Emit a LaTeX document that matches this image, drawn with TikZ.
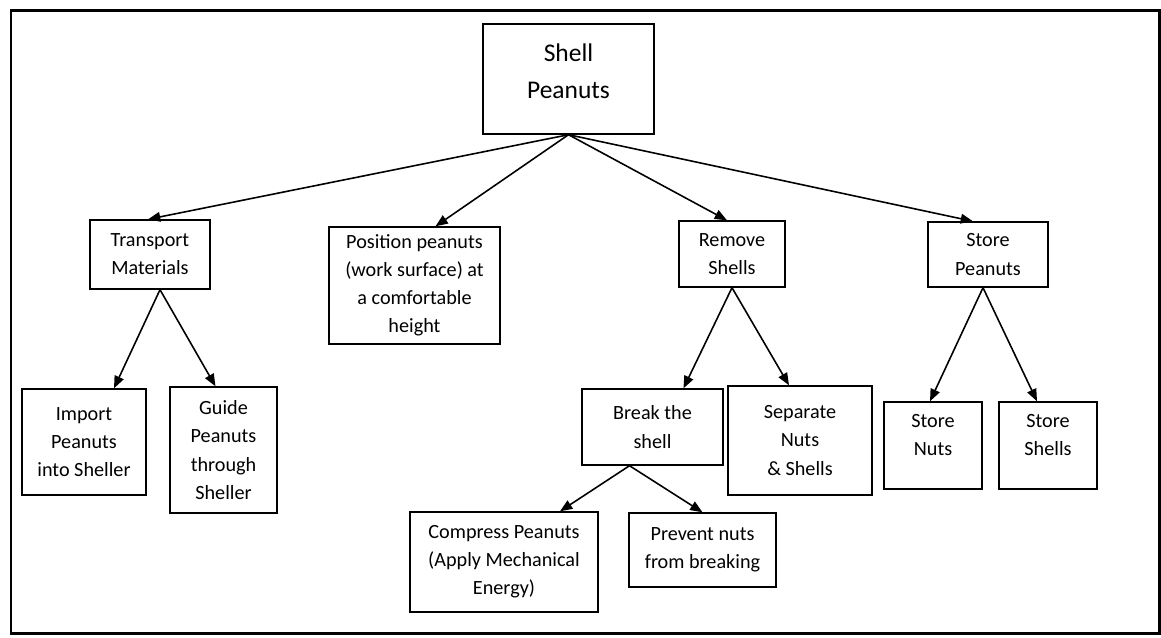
\documentclass[tikz,border=0pt]{standalone}
\usepackage{fontspec}
\setmainfont{Carlito}
\usepackage{tikz}
\usetikzlibrary{shapes,arrows,arrows.meta,positioning}

\begin{document}
\begin{tikzpicture}
            [x=0.02cm, y=-0.02cm, font=\fontsize{11.5}{16}\selectfont,
             box/.style={draw, rectangle, align=center, inner sep=0pt, line width=0.8pt},
             arr/.style={-{Triangle[length=7pt, width=5.5pt]}, line width=0.9pt}]
            \useasboundingbox (0,0) rectangle (1161,637);
            \draw[line width=1.7pt] (11,10) rectangle (1159,633);

            \node[box, minimum width=3.42cm, minimum height=2.2cm, text depth=9pt, font=\fontsize{14.5}{21}\selectfont] (root) at (568.5,79) {Shell\\Peanuts};

            \node[box, minimum width=2.4cm, minimum height=1.38cm] (transport) at (150,254.5) {Transport\\Materials};
            \node[box, minimum width=3.42cm, minimum height=2.34cm] (position) at (414.5,285.5) {Position peanuts\\(work surface) at\\a comfortable\\height};
            \node[box, minimum width=2.12cm, minimum height=1.32cm] (remove) at (732,254) {Remove\\Shells};
            \node[box, minimum width=2.4cm, minimum height=1.3cm] (store) at (988,254.5) {Store\\Peanuts};

            \node[box, minimum width=2.48cm, minimum height=2.12cm] (import) at (84,442) {Import\\Peanuts\\into Sheller};
            \node[box, minimum width=2.14cm, minimum height=2.52cm] (guide) at (223.5,450) {Guide\\Peanuts\\through\\Sheller};

            \node[box, minimum width=2.82cm, minimum height=1.52cm] (break) at (652.5,427) {Break the\\shell};
            \node[box, minimum width=2.88cm, minimum height=2.18cm] (separate) at (800,440.5) {Separate\\Nuts\\\& Shells};

            \node[box, minimum width=1.96cm, minimum height=1.74cm, text depth=12pt] (nuts) at (933,445.5) {Store\\Nuts};
            \node[box, minimum width=1.96cm, minimum height=1.74cm, text depth=12pt] (shells) at (1048,445.5) {Store\\Shells};

            \node[box, minimum width=3.76cm, minimum height=2cm] (compress) at (504,562) {Compress Peanuts\\(Apply Mechanical\\Energy)};
            \node[box, minimum width=2.94cm, minimum height=1.48cm] (prevent) at (702.5,550) {Prevent nuts\\from breaking};

            \draw[arr] (root.south) -- ([xshift=-0.04cm]transport.north);
            \draw[arr] (root.south) -- ([xshift=0.42cm]position.north);
            \draw[arr] (root.south) -- ([xshift=-0.1cm]remove.north);
            \draw[arr] (root.south) -- ([xshift=-0.3cm]store.north);

            \draw[arr] ([xshift=0.2cm]transport.south) -- ([xshift=0.6cm]import.north);
            \draw[arr] ([xshift=0.2cm]transport.south) -- ([xshift=-0.16cm]guide.north);

            \draw[arr] (remove.south) -- ([xshift=0.62cm]break.north);
            \draw[arr] (remove.south) -- ([xshift=-0.22cm]separate.north);

            \draw[arr] ([xshift=-0.1cm]store.south) -- ([xshift=-0.06cm]nuts.north);
            \draw[arr] ([xshift=-0.1cm]store.south) -- ([xshift=-0.22cm]shells.north);

            \draw[arr] ([xshift=-0.46cm]break.south) -- ([xshift=1.12cm]compress.north);
            \draw[arr] ([xshift=-0.46cm]break.south) -- (prevent.north);
        \end{tikzpicture}
\end{document}
